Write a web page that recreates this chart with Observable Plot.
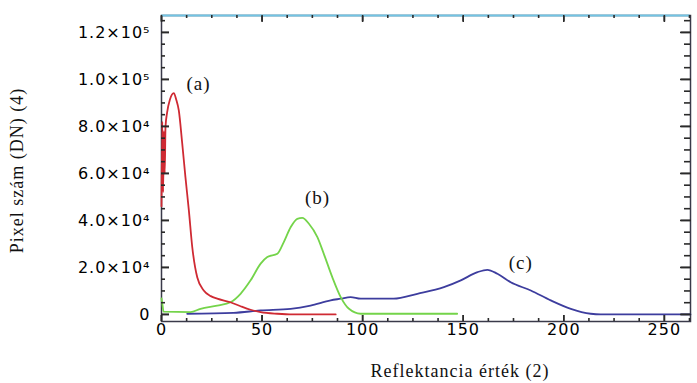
<!DOCTYPE html>
<html>
<head>
<meta charset="utf-8">
<script src="https://cdn.jsdelivr.net/npm/d3@7"></script>
<script src="https://cdn.jsdelivr.net/npm/@observablehq/plot@0.6"></script>
<style>
  html, body { margin: 0; padding: 0; background: #fff; }
  #chart svg text { letter-spacing: 1px; }
</style>
</head>
<body>
<div id="chart"></div>
<script>
// ---- data ----
const redX   = [0, 0.4, 0.8, 1.2, 1.6, 2.0, 2.8, 4.2, 6.1, 7.3, 8.6, 10.3, 11.9, 13.6, 15.3, 17.8, 21.0, 24.5, 27.7, 34.3, 39.3, 44.3, 49.3, 57.6, 65, 86.6];
const redY   = [46000, 82000, 52000, 78000, 60000, 80000, 86000, 91500, 94200, 91500, 86800, 72800, 58400, 44300, 28600, 15700, 10200, 7800, 6700, 5200, 3500, 2000, 1000, 300, 0, 0];

const greenX = [0, 0.5, 1, 14.4, 19.4, 27.7, 34.3, 39.3, 44.3, 49.3, 52.6, 57.6, 60.8, 64.2, 67.5, 70.0, 73.3, 77.5, 80.7, 84.9, 89.1, 93.2, 99.0, 147];
const greenY = [6800, 4000, 1200, 1000, 2400, 3800, 5200, 8800, 14500, 21600, 24400, 25800, 30800, 37100, 40700, 41100, 38600, 32900, 25800, 15900, 7400, 2400, 300, 300];

const blueX  = [12.8, 35.8, 49.3, 64.2, 74.1, 84.1, 89.1, 94.0, 99.0, 115.4, 127.2, 140.4, 148.8, 157.1, 162.0, 167.0, 173.6, 183.6, 193.5, 203.5, 213.4, 218.4, 263];
const blueY  = [300, 700, 1700, 2400, 3800, 6000, 6700, 7400, 6700, 6700, 8800, 11600, 14500, 18000, 19000, 17300, 13700, 10200, 6000, 2400, 300, 0, 0];

const labelText = ["(a)", "(b)", "(c)"];
const labelX    = [18.4, 77.6, 178.6];
const labelY    = [98300, 49800, 22100];

const xMajor = [0, 50, 100, 150, 200, 250];
const xMinor = [12.5, 25, 37.5, 62.5, 75, 87.5, 112.5, 125, 137.5, 162.5, 175, 187.5, 212.5, 225, 237.5, 262.5];
const yMajor = [0, 20000, 40000, 60000, 80000, 100000, 120000];
const yMinor = [5000, 10000, 15000, 25000, 30000, 35000, 45000, 50000, 55000, 65000, 70000, 75000, 85000, 90000, 95000, 105000, 110000, 115000, 125000];
const yTickLabels = ["0", "2.0×10⁴", "4.0×10⁴", "6.0×10⁴", "8.0×10⁴", "1.0×10⁵", "1.2×10⁵"];

const xTitle = "Reflektancia érték (2)";
const yTitle = "Pixel szám (DN) (4)";

const xDomain = [0, 263];
const yDomain = [-3000, 127200];

// ---- tables ----
const toRows = (xs, ys) => xs.map((x, i) => ({x, y: ys[i]}));
const red = toRows(redX, redY);
const green = toRows(greenX, greenY);
const blue = toRows(blueX, blueY);
const labels = labelText.map((t, i) => ({t, x: labelX[i], y: labelY[i]}));

const W = 697, H = 383;
const mL = 161, mR = 7, mT = 15, mB = 62;
const iw = W - mL - mR, ih = H - mT - mB;
const TC = "#2a2a2a";
const SANS = "DejaVu Sans";
const SERIF = "Liberation Serif";

const chart = Plot.plot({
  width: W, height: H,
  marginLeft: mL, marginRight: mR, marginTop: mT, marginBottom: mB,
  x: {domain: xDomain},
  y: {domain: yDomain},
  marks: [
    Plot.frame({stroke: "#3a3a4a", strokeWidth: 1.5}),
    // tick labels
    Plot.axisY(yMajor, {anchor: "left", tickSize: 0, tickPadding: 11, fontSize: 16, fontFamily: SANS,
      tickFormat: d => yTickLabels[yMajor.indexOf(d)], label: null}),
    Plot.axisX(xMajor, {anchor: "bottom", tickSize: 0, tickPadding: 2, fontSize: 16, fontFamily: SANS, label: null}),
    // series
    Plot.line(blue, {x: "x", y: "y", stroke: "#3d3d9e", strokeWidth: 1.8, curve: "monotone-x"}),
    Plot.line(green, {x: "x", y: "y", stroke: "#74d44a", strokeWidth: 1.8, curve: "monotone-x"}),
    Plot.line(red, {x: "x", y: "y", stroke: "#cf2a33", strokeWidth: 1.8, curve: "monotone-x"}),
    // annotations
    Plot.text(labels, {x: "x", y: "y", text: "t", fontFamily: SERIF, fontSize: 19, fill: "#111"}),
    // axis titles
    Plot.text([xTitle], {text: d => d, frameAnchor: "bottom", dx: 34, dy: 55, fontFamily: SERIF, fontSize: 18, fill: "#111"}),
    Plot.text([yTitle], {text: d => d, frameAnchor: "left", textAnchor: "middle", dx: -144, dy: 2, rotate: -90, fontFamily: SERIF, fontSize: 18, fill: "#111"}),
    // top border in light blue
    Plot.ruleY([yDomain[1]], {stroke: "#72c4e4", strokeWidth: 2}),
    // inward ticks on all four sides (drawn last)
    Plot.tickY(yMajor, {insetRight: iw - 8, stroke: TC, strokeWidth: 1.6}),
    Plot.tickY(yMinor, {insetRight: iw - 4, stroke: TC, strokeWidth: 1.6}),
    Plot.tickY(yMajor, {insetLeft: iw - 10, stroke: TC, strokeWidth: 1.6}),
    Plot.tickY(yMinor, {insetLeft: iw - 6, stroke: TC, strokeWidth: 1.6}),
    Plot.tickX(xMajor, {insetBottom: ih - 6, stroke: TC, strokeWidth: 1.6}),
    Plot.tickX(xMinor, {insetBottom: ih - 3, stroke: TC, strokeWidth: 1.6}),
    Plot.tickX(xMajor, {insetTop: ih - 6, stroke: TC, strokeWidth: 1.6}),
    Plot.tickX(xMinor, {insetTop: ih - 3, stroke: TC, strokeWidth: 1.6}),
    Plot.axisY(yMajor, {anchor: "left", tickSize: -8, tickFormat: () => "", label: null, stroke: TC, strokeWidth: 1.6}),
    Plot.axisY(yMajor, {anchor: "right", tickSize: -10, tickFormat: () => "", label: null, stroke: TC, strokeWidth: 1.6}),
    Plot.axisX(xMajor, {anchor: "bottom", tickSize: -6, tickFormat: () => "", label: null, stroke: TC, strokeWidth: 1.6}),
    Plot.axisX(xMajor, {anchor: "top", tickSize: -6, tickFormat: () => "", label: null, stroke: TC, strokeWidth: 1.6})
  ]
});
document.getElementById("chart").appendChild(chart);
</script>
</body>
</html>
